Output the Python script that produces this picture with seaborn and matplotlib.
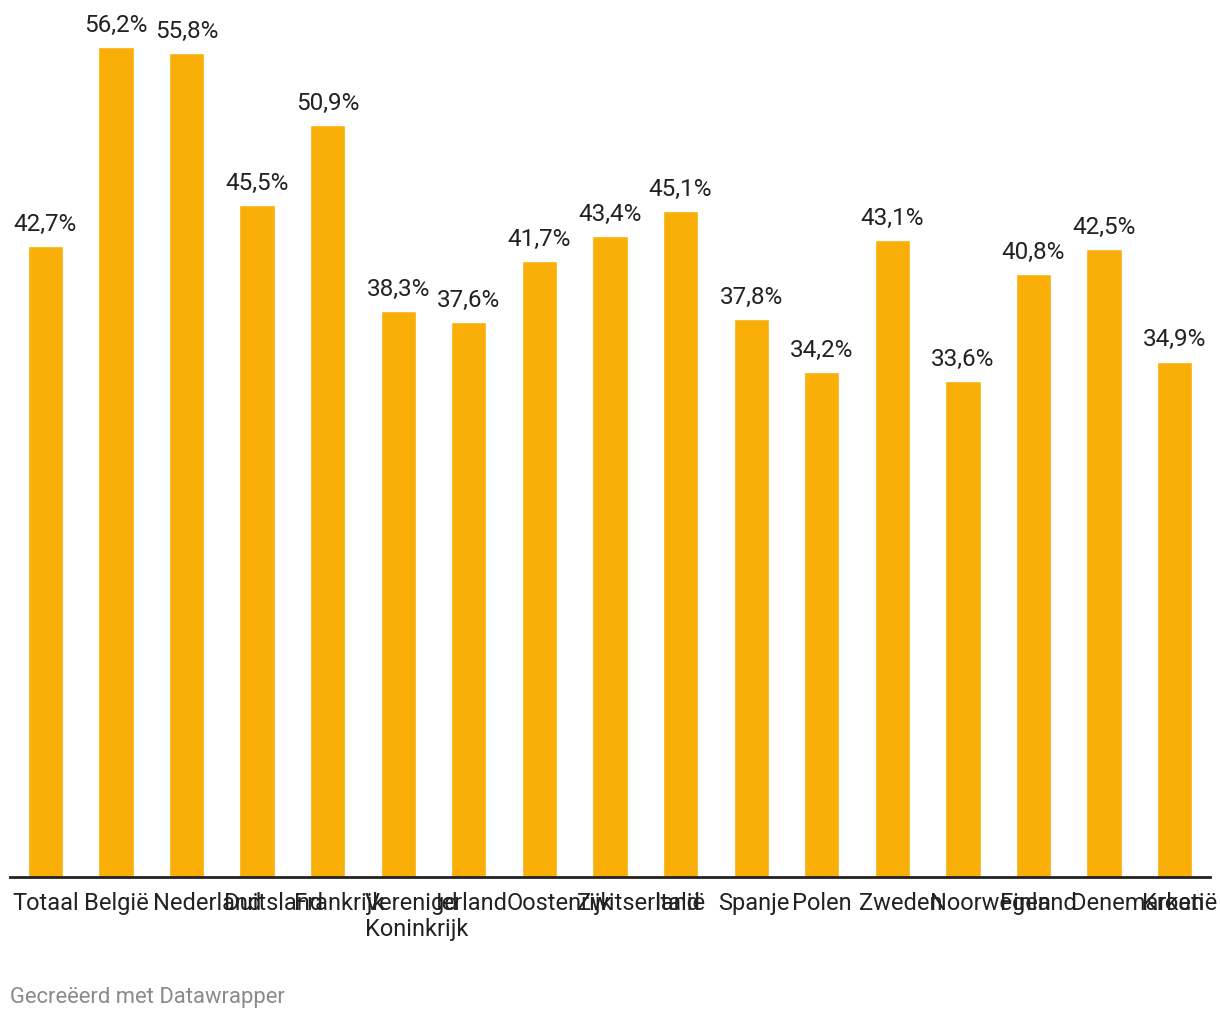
import matplotlib
matplotlib.use("Agg")
import matplotlib.pyplot as plt
import seaborn as sns
import pandas as pd

# values
landen = ["Totaal", "België", "Nederland", "Duitsland", "Frankrijk",
          "Verenigd\nKoninkrijk", "Ierland", "Oostenrijk", "Zwitserland", "Italië",
          "Spanje", "Polen", "Zweden", "Noorwegen", "Finland", "Denemarken", "Kroatië"]
percentages = [42.7, 56.2, 55.8, 45.5, 50.9, 38.3, 37.6, 41.7, 43.4, 45.1,
               37.8, 34.2, 43.1, 33.6, 40.8, 42.5, 34.9]

df = pd.DataFrame({"land": landen, "pct": percentages})

sns.set_style("white")
plt.rcParams['font.family'] = ['Roboto', 'DejaVu Sans']

fig = plt.figure(figsize=(12.2, 10.2), dpi=100)
ax = fig.add_axes([10 / 1220, 142 / 1020, 1200 / 1220, 878 / 1020])

sns.barplot(data=df, x="land", y="pct", color="#f9ae08", width=0.5,
            saturation=1, ax=ax)

for i, v in enumerate(percentages):
    ax.annotate(f"{v:.1f}%".replace(".", ","), (i, v), xytext=(0, 8),
                textcoords="offset points", ha="center", va="bottom",
                fontsize=17.5, color="#222222")

ax.set_xlim(-0.5, len(landen) - 0.5)
ax.set_ylim(0, 59.45)
ax.set_xlabel("")
ax.set_ylabel("")
ax.set_yticks([])
ax.set_xticklabels([])
for s in ["top", "right", "left"]:
    ax.spines[s].set_visible(False)
ax.spines["bottom"].set_color("#222222")
ax.spines["bottom"].set_linewidth(2)
ax.tick_params(axis="x", length=0)

# labels: centered in a box as wide as a category; longer ones overflow to the right
half_box = 0.47
labels = []
for i, name in enumerate(landen):
    t = ax.annotate(name, (i, 0), xycoords=("data", "axes fraction"),
                    xytext=(0, -10), textcoords="offset points",
                    ha="center", va="top", fontsize=17, color="#222222",
                    multialignment="left", linespacing=1.2)
    labels.append(t)

fig.canvas.draw()
renderer = fig.canvas.get_renderer()
px_per_unit = ax.transData.transform((1, 0))[0] - ax.transData.transform((0, 0))[0]
for i, t in enumerate(labels):
    w = t.get_window_extent(renderer).width
    if w > 2 * half_box * px_per_unit:
        t.xy = (i - half_box, 0)
        t.set_ha("left")

fig.text(10 / 1220, 1 - 998 / 1020, "Gecreëerd met Datawrapper", fontsize=15.8,
         color="#8a8a8a", ha="left", va="center")

fig.savefig("out.png", dpi=100)
